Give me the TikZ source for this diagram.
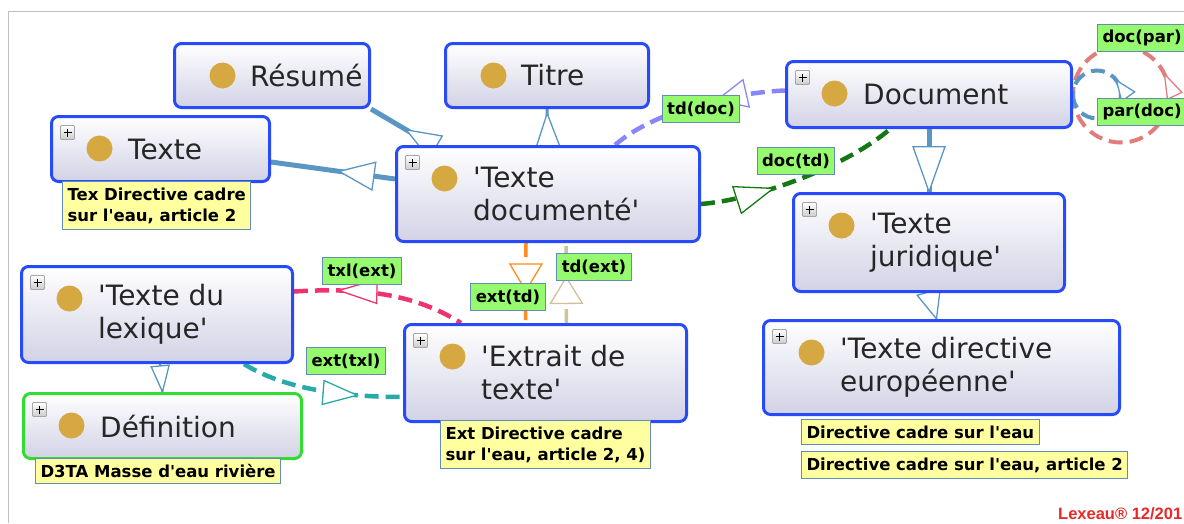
\documentclass[tikz,border=0pt]{standalone}
\usepackage{fontspec}
\setmainfont{DejaVu Sans}
\newfontfamily\lexfont{Liberation Sans}
\usetikzlibrary{backgrounds,decorations.markings}

\definecolor{clsblue}{RGB}{40,75,250}
\definecolor{clslav}{RGB}{210,210,230}
\definecolor{dotgold}{RGB}{214,168,66}
\definecolor{defgreen}{RGB}{50,220,50}
\definecolor{notefill}{RGB}{255,255,160}
\definecolor{noteline}{RGB}{100,140,180}
\definecolor{lblfill}{RGB}{150,250,110}
\definecolor{isablue}{RGB}{90,150,195}
\definecolor{tdblue}{RGB}{135,135,250}
\definecolor{docgreen}{RGB}{20,120,20}
\definecolor{extorange}{RGB}{255,140,30}
\definecolor{tdkhaki}{RGB}{205,195,150}
\definecolor{txlpink}{RGB}{240,50,110}
\definecolor{txlteal}{RGB}{40,170,170}
\definecolor{parred}{RGB}{225,125,125}
\definecolor{lexred}{RGB}{235,40,40}

\newcommand\classdot{\fill[dotgold] ([xshift=48pt,yshift=-32pt]path picture bounding box.north west) circle[radius=13pt];}
\newcommand\classplus{\draw[gray!70,line width=0.8pt,rounded corners=1pt,top color=white,bottom color=gray!40] ([xshift=9pt,yshift=-9pt]path picture bounding box.north west) rectangle ([xshift=23pt,yshift=-23pt]path picture bounding box.north west);
\draw[black,line width=1.5pt] ([xshift=12pt,yshift=-16pt]path picture bounding box.north west) -- ([xshift=20pt,yshift=-16pt]path picture bounding box.north west)
	([xshift=16pt,yshift=-12pt]path picture bounding box.north west) -- ([xshift=16pt,yshift=-20pt]path picture bounding box.north west);}

\begin{document}
\begin{tikzpicture}[x=1pt,y=-1pt,
	class_node/.style={draw=clsblue,line width=3pt,rounded corners=7pt,top color=white,bottom color=clslav,anchor=north west,inner sep=0pt,path picture={\classdot}},
	plus_node/.style={class_node,path picture={\classdot\classplus}},
	class_text/.style={anchor=west,align=left,inner sep=0pt,text=black!85,font=\fontsize{28}{33}\selectfont},
	note_node/.style={draw=noteline,fill=notefill,line width=1pt,anchor=north west,align=left,inner xsep=5pt,inner ysep=6pt,font=\bfseries\fontsize{16.5}{21}\selectfont},
	label_node/.style={draw=noteline,fill=lblfill,line width=1pt,inner xsep=5pt,inner ysep=6pt,font=\bfseries\fontsize{16.5}{20}\selectfont},
	isa/.style={draw=isablue,line width=5pt},
	rel/.style={line width=4.5pt,dash pattern=on 14pt off 7pt},
	tri_fwd/.style n args={4}{postaction={decorate,decoration={markings,mark=at position #1 with {\draw[solid,line width=1.3pt,draw=#2,fill=white] (0,0) -- (-#3,#4) -- (-#3,-#4) -- cycle;}}}},
	tri_back/.style n args={4}{postaction={decorate,decoration={markings,mark=at position #1 with {\draw[solid,line width=1.3pt,draw=#2,fill=white] (0,0) -- (#3,#4) -- (#3,-#4) -- cycle;}}}}]

	\useasboundingbox (0,0) rectangle (1184,523);

	\node[class_node,minimum width=195,minimum height=64] (resume) at (173,42) {};
	\node[class_node,minimum width=203,minimum height=64] (titre) at (444,42) {};
	\node[plus_node,minimum width=218,minimum height=65] (texte) at (50,115) {};
	\node[plus_node,minimum width=303,minimum height=95] (txtdoc) at (395,145) {};
	\node[plus_node,minimum width=285,minimum height=66] (document) at (785,60) {};
	\node[plus_node,minimum width=271,minimum height=98] (juridique) at (792,192) {};
	\node[plus_node,minimum width=356,minimum height=94] (directive) at (762,319) {};
	\node[plus_node,minimum width=271,minimum height=96] (lexique) at (20,265) {};
	\node[plus_node,draw=defgreen,minimum width=278,minimum height=65] (definition) at (22,392) {};
	\node[plus_node,minimum width=282,minimum height=97] (extrait) at (403,323) {};

	\node[class_text] (resume_t) at ([xshift=77pt]resume.west) {Résumé};
	\node[class_text] (titre_t) at ([xshift=77pt]titre.west) {Titre};
	\node[class_text] (texte_t) at ([xshift=78pt]texte.west) {Texte};
	\node[class_text] (txtdoc_t) at ([xshift=78pt]txtdoc.west) {\textquotesingle Texte\\documenté\textquotesingle};
	\node[class_text] (document_t) at ([xshift=78pt]document.west) {Document};
	\node[class_text] (juridique_t) at ([xshift=78pt]juridique.west) {\textquotesingle Texte\\juridique\textquotesingle};
	\node[class_text] (directive_t) at ([xshift=78pt]directive.west) {\textquotesingle Texte directive\\européenne\textquotesingle};
	\node[class_text] (lexique_t) at ([xshift=78pt]lexique.west) {\textquotesingle Texte du\\lexique\textquotesingle};
	\node[class_text] (definition_t) at ([xshift=78pt]definition.west) {Définition};
	\node[class_text] (extrait_t) at ([xshift=78pt]extrait.west) {\textquotesingle Extrait de\\texte\textquotesingle};

	\node[note_node] (texte_n) at (62,181) {Tex Directive cadre\\sur l\textquotesingle eau, article 2};
	\node[note_node] (extrait_n) at (440,420) {Ext Directive cadre\\sur l\textquotesingle eau, article 2, 4)};
	\node[note_node] (definition_n) at (35,458) {D3TA Masse d\textquotesingle eau rivière};
	\node[note_node] (directive_n1) at (801,419) {Directive cadre sur l\textquotesingle eau};
	\node[note_node] (directive_n2) at (801,451) {Directive cadre sur l\textquotesingle eau, article 2};

	\begin{pgfonlayer}{background}
		\draw[gray!50,line width=1pt] (8,523) -- (8,11) -- (1184,11);

		\draw[isa,tri_back={0.58}{isablue}{34}{13}] (resume.south east) -- ([xshift=37pt]txtdoc.north west);
		\draw[isa,line width=3pt,tri_back={0.12}{isablue}{34}{12}] (titre.south) -- (txtdoc.north);
		\draw[isa,tri_back={0.55}{isablue}{35}{14}] ([yshift=-13pt]texte.east) -- ([yshift=15pt]txtdoc.west);
		\draw[isa,tri_fwd={0.995}{isablue}{45}{16}] (document.south) -- (juridique.north);
		\draw[isa,line width=2pt,tri_fwd={0.995}{isablue}{28}{12}] (juridique.south) -- ([xshift=-5pt]directive.north);
		\draw[isa,line width=2pt,tri_fwd={0.995}{isablue}{26}{9}] ([xshift=3pt]lexique.south) -- (definition.north);

		\draw[rel,tdblue,tri_back={0.62}{tdblue}{30}{14}] ([xshift=220pt]txtdoc.north west) .. controls +(40,-35) and +(-50,2) .. ([yshift=4pt]document.west);
		\draw[rel,docgreen,tri_fwd={0.36}{docgreen}{38}{14}] ([yshift=-10pt]txtdoc.east) .. controls +(60,-5) and +(-40,35) .. ([xshift=105pt]document.south west);
		\draw[rel,extorange,line width=3.5pt,tri_fwd={0.6}{extorange}{27}{16}] ([xshift=-22pt]txtdoc.south) -- ([xshift=-20pt]extrait.north);
		\draw[rel,tdkhaki,line width=3.5pt,tri_fwd={0.57}{tdkhaki}{26}{16}] ([xshift=21pt]extrait.north) -- ([xshift=18pt]txtdoc.south);
		\draw[rel,txlpink,tri_back={0.26}{txlpink}{38}{12}] ([yshift=23pt]lexique.east) .. controls +(80,-5) and +(-40,-25) .. ([xshift=58pt]extrait.north west);
		\draw[rel,txlteal,tri_fwd={0.72}{txlteal}{34}{12}] ([xshift=-50pt]lexique.south east) .. controls +(40,25) and +(-60,0) .. ([yshift=-24pt]extrait.west);
		\draw[rel,parred,line width=4pt,tri_fwd={0.57}{parred}{24}{8}] (document.east) arc[start angle=180,end angle=-180,radius=48];
		\draw[rel,isablue,line width=4pt,tri_fwd={0.6}{isablue}{20}{8}] (document.east) arc[start angle=180,end angle=-180,radius=24];
	\end{pgfonlayer}

	\node[label_node] (td_doc) at (701,109) {td(doc)};
	\node[label_node] (doc_td) at (796,161) {doc(td)};
	\node[label_node] (ext_td) at (508,297) {ext(td)};
	\node[label_node] (td_ext) at (594,267) {td(ext)};
	\node[label_node] (txl_ext) at (362,271) {txl(ext)};
	\node[label_node] (ext_txl) at (346,361) {ext(txl)};
	\node[label_node,anchor=west] (doc_par) at (1097,38) {doc(par)};
	\node[label_node,anchor=west] (par_doc) at (1097,112) {par(doc)};

	\node[anchor=base west,inner sep=0pt,text=lexred,font=\lexfont\bfseries\fontsize{16.5}{19}\selectfont] (lexeau) at (1058,519) {Lexeau® 12/201};
\end{tikzpicture}
\end{document}
